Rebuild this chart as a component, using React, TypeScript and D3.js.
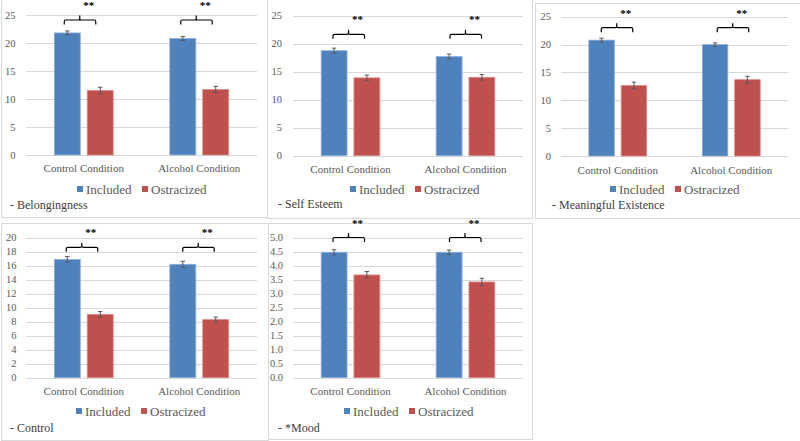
import React from "react";
import * as d3 from "d3";

// categories and series
const conditions = ["Control Condition", "Alcohol Condition"];
const groups = ["Included", "Ostracized"];
const groupColors = ["#4f81bd", "#c0504d"];
const groupEdges = ["#8eb0dc", "#dc8c8a"];

// means and error bars, [group][condition]
const belongingMeans = [[21.8, 20.8], [11.5, 11.7]];
const belongingErrors = [[0.35, 0.35], [0.6, 0.55]];
const selfEsteemMeans = [[18.75, 17.7], [13.9, 14.0]];
const selfEsteemErrors = [[0.45, 0.45], [0.5, 0.5]];
const meaningMeans = [[20.8, 20.0], [12.65, 13.7]];
const meaningErrors = [[0.35, 0.3], [0.6, 0.6]];
const controlMeans = [[16.9, 16.2], [9.05, 8.3]];
const controlErrors = [[0.4, 0.43], [0.4, 0.36]];
const moodMeans = [[4.48, 4.48], [3.67, 3.42]];
const moodErrors = [[0.09, 0.08], [0.12, 0.13]];

// tick labels
const ticks25 = [0, 5, 10, 15, 20, 25];
const ticks20 = [0, 2, 4, 6, 8, 10, 12, 14, 16, 18, 20];
const ticks5 = [0, 0.5, 1, 1.5, 2, 2.5, 3, 3.5, 4, 4.5, 5];

const sig = ["**", "**"];

const FONT = "'Liberation Serif', 'Times New Roman', serif";

const panels = [
  {
    title: "- Belongingness", means: belongingMeans, errors: belongingErrors, ticks: ticks25, fmt: d3.format("d"),
    box: [1, -15, 268, 217], plot: [26, 257, 15, 155], labelX: 15.5,
    bracketY: 20, bracketShift: [-3, -2], catY: 168, legendX: 77, legendY: 189, titleX: 10, titleY: 205,
  },
  {
    title: "- Self Esteem", means: selfEsteemMeans, errors: selfEsteemErrors, ticks: ticks25, fmt: d3.format("d"),
    box: [267, -5, 532, 218], plot: [293, 523, 15.7, 155.7], labelX: 282,
    bracketY: 34.3, bracketShift: [-1, 1], catY: 169, legendX: 350, legendY: 189, titleX: 278, titleY: 204,
  },
  {
    title: "- Meaningful Existence", means: meaningMeans, errors: meaningErrors, ticks: ticks25, fmt: d3.format("d"),
    box: [535, 3, 801, 218], plot: [561, 788, 16.7, 156], labelX: 551,
    bracketY: 27.7, bracketShift: [0, 2.5], catY: 170, legendX: 610, legendY: 189, titleX: 552, titleY: 205,
  },
  {
    title: "- Control", means: controlMeans, errors: controlErrors, ticks: ticks20, fmt: d3.format("d"),
    box: [1, 223, 268, 440], plot: [26, 257, 237.7, 377.7], labelX: 16.5,
    bracketY: 247.3, bracketShift: [-1, 0], catY: 391, legendX: 76, legendY: 411, titleX: 10, titleY: 428,
  },
  {
    title: "- *Mood", means: moodMeans, errors: moodErrors, ticks: ticks5, fmt: d3.format(".1f"),
    box: [268, 223, 532, 439], plot: [293, 523, 237.7, 377.7], labelX: 283,
    bracketY: 237.5, bracketShift: [-1, 0.5], catY: 391, legendX: 344, legendY: 411, titleX: 278, titleY: 428,
  },
];

function Panel({ p }) {
  const [x0, x1, yTopPx, yZeroPx] = p.plot;
  const yMax = p.ticks[p.ticks.length - 1];
  const y = d3.scaleLinear().domain([0, yMax]).range([yZeroPx, yTopPx]);
  const x = d3.scaleBand().domain(conditions).range([x0, x1]);
  const bw = x.bandwidth();
  const barW = bw * 0.225;
  const gap = bw * 0.03;
  const barX = (gi, c) => {
    const center = x(c) + bw / 2;
    return gi === 0 ? center - gap - barW : center + gap;
  };
  const [bx0, by0, bx1, by1] = p.box;

  return (
    <g>
      <rect x={bx0 + 0.5} y={by0 + 0.5} width={bx1 - bx0} height={by1 - by0} fill="#fff" stroke="#d9d9d9" strokeWidth={1} />
      {p.ticks.map((t) => (
        <g key={t}>
          <line x1={x0} x2={x1} y1={Math.round(y(t)) + 0.5} y2={Math.round(y(t)) + 0.5} stroke="#d9d9d9" strokeWidth={1} />
          <text x={p.labelX} y={y(t) + 3.5} textAnchor="end" fontSize={10.5} fill="#595959" fontFamily={FONT}>
            {p.fmt(t)}
          </text>
        </g>
      ))}
      {groups.map((g, gi) =>
        conditions.map((c, ci) => {
          const v = p.means[gi][ci];
          const e = p.errors[gi][ci];
          const bx = barX(gi, c);
          const cx = bx + barW / 2;
          return (
            <g key={g + c}>
              <rect x={bx} y={y(v)} width={barW} height={y(0) - y(v)} fill={groupColors[gi]} stroke={groupEdges[gi]} strokeWidth={0.8} />
              <line x1={cx} x2={cx} y1={y(v + e)} y2={y(v - e)} stroke="#595959" strokeWidth={1} />
              <line x1={cx - 2.2} x2={cx + 2.2} y1={y(v + e)} y2={y(v + e)} stroke="#595959" strokeWidth={1} />
              <line x1={cx - 2.2} x2={cx + 2.2} y1={y(v - e)} y2={y(v - e)} stroke="#595959" strokeWidth={1} />
            </g>
          );
        })
      )}
      {conditions.map((c, ci) => {
        const mid = x(c) + bw / 2 + p.bracketShift[ci];
        const by = p.bracketY;
        const l = mid - 16.5;
        const r = mid + 15;
        const path = `M${l},${by + 4.5} L${l},${by + 1.5} Q${l},${by} ${l + 1.5},${by} L${mid - 2.5},${by} Q${mid - 1},${by} ${mid - 1},${by - 1.5} L${mid - 1},${by - 4.5} M${mid - 1},${by - 1.5} Q${mid - 1},${by} ${mid + 0.5},${by} L${r - 1.5},${by} Q${r},${by} ${r},${by + 1.5} L${r},${by + 4.5}`;
        return (
          <g key={c + "br"}>
            <path d={path} fill="none" stroke="#000" strokeWidth={1.2} />
            <text x={mid + 8} y={by - 11} textAnchor="middle" fontSize={11} fontWeight="bold" fontFamily={FONT} fill="#000">
              {sig[ci]}
            </text>
            <text x={x(c) + bw / 2} y={p.catY + 3.7} textAnchor="middle" fontSize={11} fill="#595959" fontFamily={FONT}>
              {c}
            </text>
          </g>
        );
      })}
      {groups.map((g, gi) => {
        const lx = p.legendX + gi * 65;
        return (
          <g key={g + "lg"}>
            <rect x={lx} y={p.legendY - 3} width={6} height={6} fill={groupColors[gi]} />
            <text x={lx + 9} y={p.legendY + 4.5} fontSize={13} fill="#595959" fontFamily={FONT}>
              {g}
            </text>
          </g>
        );
      })}
      <text x={p.titleX} y={p.titleY + 4} fontSize={12} fill="#404040" fontFamily={FONT}>
        {p.title}
      </text>
    </g>
  );
}

export default function App() {
  return (
    <svg width={800} height={441} style={{ position: "absolute", left: 0, top: 0, background: "#fff" }}>
      {panels.map((p) => (
        <Panel key={p.title} p={p} />
      ))}
    </svg>
  );
}
